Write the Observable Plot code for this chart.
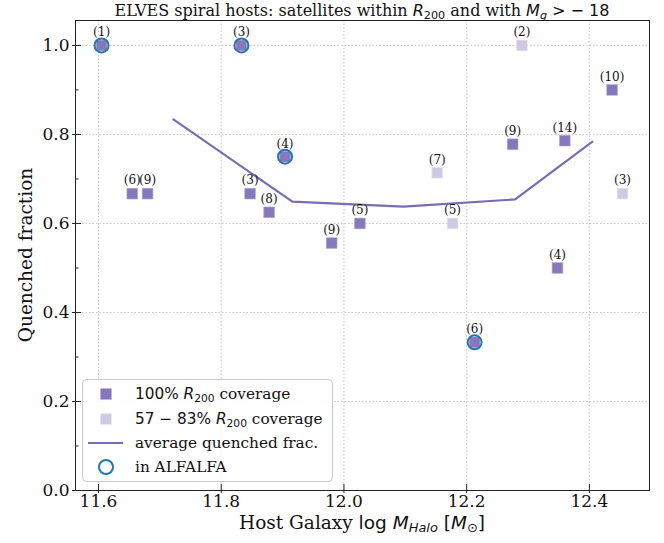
<!DOCTYPE html>
<html><head><meta charset="utf-8">
<script src="https://cdn.jsdelivr.net/npm/d3@7"></script>
<script src="https://cdn.jsdelivr.net/npm/@observablehq/plot@0.6"></script>
<style>body{margin:0;background:#fff}</style>
</head><body><div id="chart"></div>
<script>
// ---- data ----
const hostMass     = [11.605, 11.833, 11.904, 11.655, 11.680, 11.847, 11.878, 11.980, 12.026, 12.152, 12.177, 12.213, 12.290, 12.275, 12.360, 12.348, 12.437, 12.454];
const quenchedFrac = [1.0,    1.0,    0.75,   0.667,  0.667,  0.667,  0.625,  0.556,  0.6,    0.714,  0.6,    0.333,  1.0,    0.778,  0.786,  0.5,    0.9,    0.667];
const nSatellites  = [1,      3,      4,      6,      9,      3,      8,      9,      5,      7,      5,      6,      2,      9,      14,     4,      10,     3];
const coverage     = ["full","full","full","full","full","full","full","full","full","partial","partial","full","partial","full","full","full","full","partial"];
const inAlfalfa    = [true,  true,   true,   false,  false,  false,  false,  false,  false,  false,  false,  true,   false,  false,  false,  false,  false,  false];
const avgMass      = [11.722, 11.916, 12.097, 12.279, 12.405];
const avgFrac      = [0.834,  0.649,  0.638,  0.654,  0.784];
const xTicks       = [11.6, 11.8, 12.0, 12.2, 12.4];
const yTicks       = [0, 0.2, 0.4, 0.6, 0.8, 1.0];
const yMinorTicks  = [0.1, 0.3, 0.5, 0.7, 0.9];

const hosts = hostMass.map((m, i) => ({m, f: quenchedFrac[i], n: nSatellites[i], cov: coverage[i], hi: inAlfalfa[i]}));
const avg = avgMass.map((m, i) => ({m, f: avgFrac[i]}));

const dark = "#8777bb", light = "#d0c9e4", lineC = "#7b6bb6", blue = "#1f77b4";
const W = 664, H = 543, mL = 75, mR = 15, mT = 20, mB = 53;

const plot = Plot.plot({
  width: W, height: H,
  marginLeft: mL, marginRight: mR, marginTop: mT, marginBottom: mB,
  style: {fontFamily: "DejaVu Serif", fontSize: "17px", color: "#111", background: "#fff"},
  x: {domain: [11.5625, 12.498]},
  y: {domain: [0, 1.056]},
  marks: [
    Plot.gridX(xTicks, {stroke: "#b8b8b8", strokeOpacity: 1, strokeDasharray: "1.5,2", strokeWidth: 0.8}),
    Plot.gridY(yTicks, {stroke: "#b8b8b8", strokeOpacity: 1, strokeDasharray: "1.5,2", strokeWidth: 0.8}),
    Plot.dot(hosts.filter(d => d.cov === "partial"), {x: "m", y: "f", symbol: "square", r: 6, fill: light, stroke: "#e4e0f0", strokeWidth: 0.6}),
    Plot.dot(hosts.filter(d => d.cov === "full"), {x: "m", y: "f", symbol: "square", r: 6, fill: dark, stroke: "#a99dd0", strokeWidth: 0.6}),
    Plot.line(avg, {x: "m", y: "f", stroke: lineC, strokeWidth: 2.2}),
    Plot.dot(hosts.filter(d => d.hi), {x: "m", y: "f", r: 7, stroke: blue, strokeWidth: 2, fill: "none"}),
    Plot.text(hosts, {x: "m", y: "f", text: d => `(${d.n})`, dy: -13, fontSize: 12, fill: "#111"}),
    Plot.frame({stroke: "#222", strokeWidth: 1}),
    Plot.axisX(xTicks, {tickFormat: d3.format(".1f"), tickSize: 3, tickPadding: 1, fontSize: 17, label: null, stroke: "#222"}),
    Plot.axisX(xTicks, {tickFormat: () => "", tickSize: -6, label: null, stroke: "#222"}),
    Plot.axisY(yTicks, {tickFormat: d3.format(".1f"), tickSize: 3, tickPadding: 3, fontSize: 17, label: null, stroke: "#222"}),
    Plot.axisY(yTicks, {tickFormat: () => "", tickSize: -6, label: null, stroke: "#222"}),
    Plot.axisY(yMinorTicks, {tickFormat: () => "", tickSize: -3.5, label: null, stroke: "#222"})
  ]
});

const svg = d3.select(plot);
const SANS = "DejaVu Sans", SERIF = "DejaVu Serif";

function richText(parent, x, y, parts, opts = {}) {
  const t = parent.append("text").attr("x", x).attr("y", y)
    .attr("font-size", opts.size || 16).attr("fill", "#111")
    .attr("text-anchor", opts.anchor || "start");
  if (opts.transform) t.attr("transform", opts.transform);
  for (const p of parts) {
    const s = t.append("tspan").text(p.t).attr("font-family", p.f || SERIF);
    if (p.i) s.attr("font-style", "italic");
    if (p.sub) s.attr("baseline-shift", "-25%").attr("font-size", (opts.size || 16) * 0.7);
  }
  return t;
}

// title
richText(svg, (mL + W - mR) / 2, 16, [
  {t: "ELVES spiral hosts: satellites within "},
  {t: "R", f: SANS, i: true}, {t: "200", f: SANS, sub: true},
  {t: " and with "},
  {t: "M", f: SANS, i: true}, {t: "g", f: SANS, i: true, sub: true},
  {t: " > \u2212 18", f: SANS}
], {size: 16, anchor: "middle"});

// x label
richText(svg, (mL + W - mR) / 2, 529, [
  {t: "Host Galaxy "},
  {t: "log ", f: SANS}, {t: "M", f: SANS, i: true}, {t: "Halo", f: SANS, i: true, sub: true},
  {t: " [", f: SANS}, {t: "M", f: SANS, i: true}, {t: "\u2299", f: SANS, sub: true}, {t: "]", f: SANS}
], {size: 18.5, anchor: "middle"});

// y label
richText(svg, 0, 0, [{t: "Quenched fraction"}], {size: 18.5, anchor: "middle", transform: `translate(32,${(mT + H - mB) / 2}) rotate(-90)`});

// legend
const lg = svg.append("g");
lg.append("rect").attr("x", 82.5).attr("y", 379.5).attr("width", 250).attr("height", 102)
  .attr("rx", 4).attr("fill", "#fff").attr("fill-opacity", 0.85).attr("stroke", "#c8c8c8").attr("stroke-width", 1);
const rows = [394, 419, 443, 467];
lg.append("rect").attr("x", 106 - 5.3).attr("y", rows[0] - 5.3).attr("width", 10.6).attr("height", 10.6).attr("fill", dark).attr("stroke", "#a99dd0").attr("stroke-width", 0.6);
lg.append("rect").attr("x", 106 - 5.3).attr("y", rows[1] - 5.3).attr("width", 10.6).attr("height", 10.6).attr("fill", light).attr("stroke", "#e4e0f0").attr("stroke-width", 0.6);
lg.append("line").attr("x1", 88).attr("x2", 123).attr("y1", rows[2]).attr("y2", rows[2]).attr("stroke", lineC).attr("stroke-width", 2.2);
lg.append("circle").attr("cx", 106).attr("cy", rows[3]).attr("r", 7).attr("fill", "none").attr("stroke", blue).attr("stroke-width", 2);
const ls = 15.3;
richText(lg, 135, rows[0] + 5, [{t: "100% ", f: SANS}, {t: "R", f: SANS, i: true}, {t: "200", f: SANS, sub: true}, {t: " coverage"}], {size: ls});
richText(lg, 135, rows[1] + 5, [{t: "57 \u2212 83% ", f: SANS}, {t: "R", f: SANS, i: true}, {t: "200", f: SANS, sub: true}, {t: " coverage"}], {size: ls});
richText(lg, 135, rows[2] + 5, [{t: "average quenched frac."}], {size: ls});
richText(lg, 135, rows[3] + 5, [{t: "in ALFALFA"}], {size: ls});

document.getElementById("chart").appendChild(plot);
</script>
</body></html>
